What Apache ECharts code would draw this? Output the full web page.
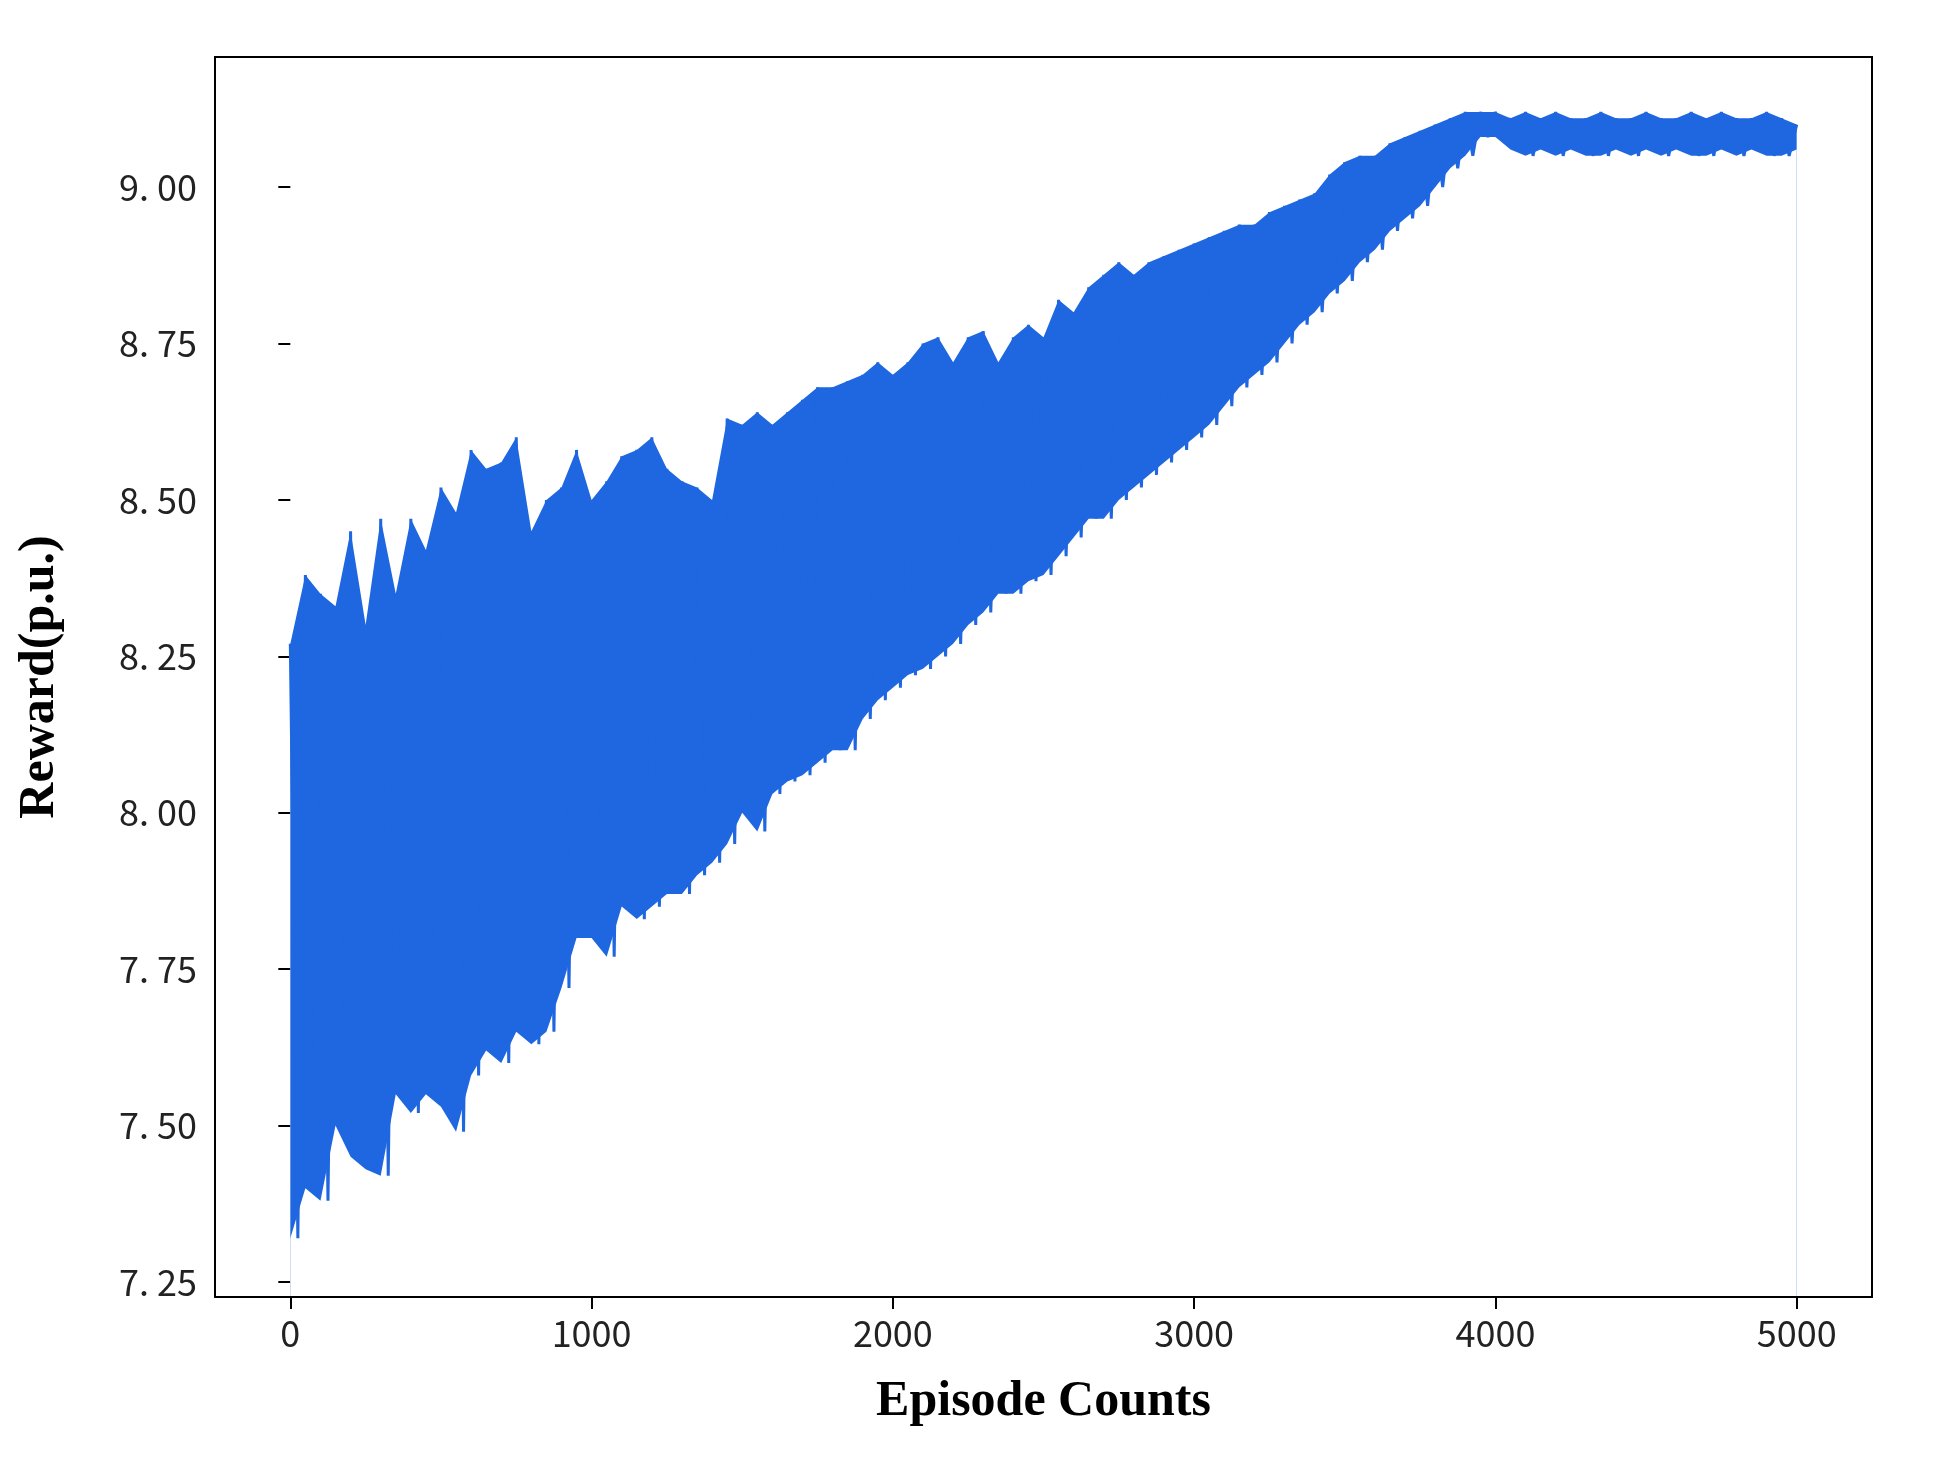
<!DOCTYPE html>
<html><head><meta charset="utf-8">
<script src="https://cdn.jsdelivr.net/npm/echarts@6/dist/echarts.min.js"></script>
<style>html,body{margin:0;background:#fff}#c{width:1960px;height:1466px}</style>
</head><body><div id="c"></div>
<script>
const episodes = [];
for (let e = 0; e <= 5000; e += 50) episodes.push(e);
const upperVals = [8.27,8.38,8.35,8.33,8.45,8.30,8.47,8.35,8.47,8.42,8.52,8.48,8.58,8.55,8.56,8.60,8.45,8.50,8.52,8.58,
8.50,8.53,8.57,8.58,8.60,8.55,8.53,8.52,8.50,8.63,8.62,8.64,8.62,8.64,8.66,8.68,8.68,8.69,8.70,8.72,
8.70,8.72,8.75,8.76,8.72,8.76,8.77,8.72,8.76,8.78,8.76,8.82,8.80,8.84,8.86,8.88,8.86,8.88,8.89,8.90,
8.91,8.92,8.93,8.94,8.94,8.96,8.97,8.98,8.99,9.02,9.04,9.05,9.05,9.07,9.08,9.09,9.10,9.11,9.12,9.12,
9.12,9.11,9.12,9.11,9.12,9.11,9.11,9.12,9.11,9.11,9.12,9.11,9.11,9.12,9.11,9.12,9.11,9.11,9.12,9.11,9.10];
const lowerVals = [7.32,7.40,7.38,7.50,7.45,7.43,7.42,7.55,7.52,7.55,7.53,7.49,7.58,7.62,7.60,7.65,7.63,7.65,7.72,7.80,
7.80,7.77,7.85,7.83,7.85,7.87,7.87,7.90,7.92,7.95,8.00,7.97,8.03,8.05,8.06,8.08,8.10,8.10,8.15,8.18,
8.20,8.22,8.23,8.25,8.27,8.30,8.32,8.35,8.35,8.37,8.38,8.41,8.44,8.47,8.47,8.50,8.52,8.54,8.56,8.58,
8.60,8.62,8.65,8.68,8.70,8.72,8.75,8.78,8.80,8.83,8.85,8.88,8.90,8.93,8.95,8.97,9.00,9.03,9.05,9.08,
9.08,9.06,9.05,9.06,9.05,9.06,9.05,9.05,9.06,9.05,9.06,9.05,9.06,9.05,9.05,9.06,9.05,9.06,9.05,9.05,9.06];
const xTicks = [0,1000,2000,3000,4000,5000];
const yTicks = [7.25,7.5,7.75,8.0,8.25,8.5,8.75,9.0];

const zig = [];
episodes.forEach((e,i)=>{ zig.push([e, upperVals[i]]); if (i < episodes.length-1) zig.push([e+25, lowerVals[i]]); });
const upperPts = episodes.map((e,i)=>[e, upperVals[i]]);
const lowerPts = episodes.map((e,i)=>[e, lowerVals[i]]);
const col = '#1f67e0';
const lblFont = {fontFamily:'Noto Sans CJK SC', fontSize:36, color:'#222'};

echarts.init(document.getElementById('c')).setOption({
  animation:false,
  grid:{left:215,right:88,top:57,bottom:169,show:true,borderColor:'#000',borderWidth:2},
  xAxis:{type:'value',min:-250,max:5250,name:'Episode Counts',nameLocation:'middle',nameGap:80,z:10,
    nameTextStyle:{fontFamily:'Liberation Serif',fontWeight:'bold',fontSize:50,color:'#000'},
    axisLine:{show:true,onZero:false,lineStyle:{color:'#000',width:2}},splitLine:{show:false},
    axisTick:{show:true,length:12,lineStyle:{color:'#000',width:2},customValues:xTicks},
    axisLabel:{...lblFont,margin:18,customValues:xTicks,formatter:v=>String(v)}},
  yAxis:{type:'value',min:7.226,max:9.208,name:'Reward(p.u.)',nameLocation:'middle',nameGap:150,
    nameTextStyle:{fontFamily:'Liberation Serif',fontWeight:'bold',fontSize:50,color:'#000'},
    axisLine:{show:false},splitLine:{show:false},
    axisTick:{show:true,length:12,lineStyle:{color:'#000',width:2},customValues:yTicks},
    axisLabel:{...lblFont,margin:18,customValues:yTicks,formatter:v=>v.toFixed(2).replace('.','. ')}},
  series:[
    {type:'line',data:upperPts,symbol:'none',lineStyle:{width:0},areaStyle:{color:col,opacity:1,origin:'start'},silent:true,z:1},
    {type:'line',data:lowerPts,symbol:'none',lineStyle:{width:0},areaStyle:{color:'#fff',opacity:1,origin:'start'},silent:true,z:2},
    {type:'line',data:zig,symbol:'none',lineStyle:{color:col,width:3},z:3}
  ]
});
</script></body></html>
